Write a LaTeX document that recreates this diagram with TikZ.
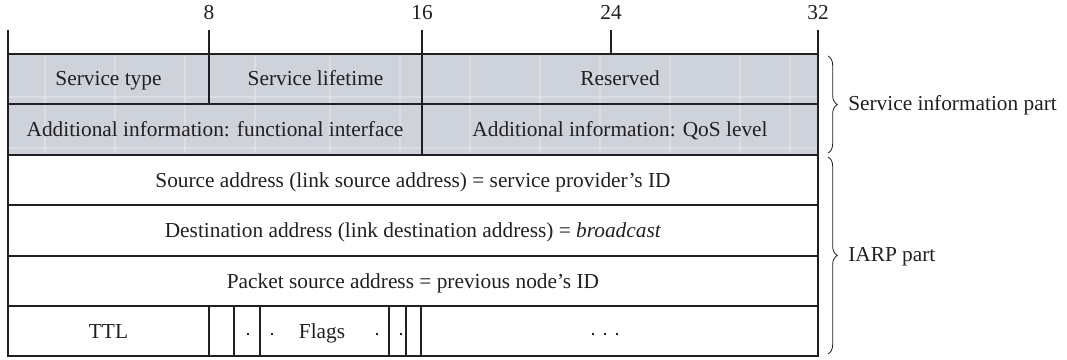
\documentclass[tikz,border=0pt]{standalone}
\usepackage{fontspec}
\setmainfont{Liberation Serif}
\usetikzlibrary{decorations.pathreplacing}
\definecolor{fieldgrey}{HTML}{CED2DA}
\definecolor{inkc}{HTML}{231F20}
\tikzset{
  cell/.style={draw=inkc, line width=0.8pt},
  lbl/.style={text=inkc, font=\fontsize{16}{19}\selectfont, inner sep=0pt, anchor=base},
  tick/.style={draw=inkc, line width=0.8pt},
  thick16/.style={draw=inkc, line width=1.3pt},
  dotc/.style={fill=inkc, inner sep=0pt, minimum size=1.8pt, rectangle},
  bracec/.style={draw=inkc, line width=0.6pt, decorate, decoration={brace, amplitude=7pt}},
  texture/.style={draw=white, opacity=0.25, line width=1.2pt}
}
\begin{document}
\begin{tikzpicture}[x=0.75pt,y=-0.75pt]
\useasboundingbox (0,0) rectangle (1067,360);
% grey rows
\fill[fieldgrey] (8,54) rectangle (818,155);
\foreach \xx in {45,115,185,255,330,400,470,540,600,670,740,790}
  \draw[texture] (\xx,56) -- (\xx,153);
\foreach \yy in {97,148}
  \draw[texture] (9,\yy) -- (817,\yy);
% row 1
\draw[cell] (8,54) rectangle (209,104);
\draw[cell] (209,54) rectangle (422,104);
\draw[cell] (422,54) rectangle (818,104);
\node[lbl] (st) at (108.5,86) {Service type};
\node[lbl] (sl) at (315.5,86) {Service lifetime};
\node[lbl] (rs) at (620,86) {Reserved};
% row 2
\draw[cell] (8,104) rectangle (422,155);
\draw[cell] (422,104) rectangle (818,155);
\node[lbl] (fi) at (215,137) {Additional information: functional interface};
\node[lbl] (qos) at (620,137) {Additional information: QoS level};
\draw[thick16] (422,54) -- (422,155);
% rows 3-5
\draw[cell] (8,155) rectangle (818,205);
\node[lbl] (src) at (413,187) {Source address (link source address) = service provider's ID};
\draw[cell] (8,205) rectangle (818,256);
\node[lbl] (dst) at (413,237) {Destination address (link destination address) = \textit{broadcast}};
\draw[cell] (8,256) rectangle (818,306);
\node[lbl] (psa) at (413,288) {Packet source address = previous node's ID};
% row 6
\draw[cell] (8,306) rectangle (818,356);
\foreach \xx in {209,234,260,389,406}
  \draw[cell] (\xx,306) -- (\xx,356);
\draw[thick16] (421,306) -- (421,356);
\node[lbl] (ttl) at (108.5,338) {TTL};
\node[lbl] (flg) at (322,338) {Flags};
\node[dotc] (d1) at (248,334) {};
\node[dotc] (d2) at (272,334) {};
\node[dotc] (d3) at (377,334) {};
\node[dotc] (d4) at (401,334) {};
\node[dotc] (e1) at (593,334) {};
\node[dotc] (e2) at (605,334) {};
\node[dotc] (e3) at (617,334) {};
% scale ticks
\foreach \xx in {8,209,611,818}
  \draw[tick] (\xx,30) -- (\xx,54);
\draw[thick16] (422,30) -- (422,54);
\node[lbl] (b8) at (209,20) {8};
\node[lbl] (b16) at (422,20) {16};
\node[lbl] (b24) at (611,20) {24};
\node[lbl] (b32) at (818,20) {32};
% braces
\coordinate (s1) at (828,56);
\coordinate (s2) at (828,153);
\coordinate (i1) at (828,157);
\coordinate (i2) at (828,354);
\draw[bracec] (s1) -- (s2);
\draw[bracec] (i1) -- (i2);
\node[lbl, anchor=base west] (sip) at (848,110) {Service information part};
\node[lbl, anchor=base west] (iarp) at (848,261) {IARP part};
\end{tikzpicture}
\end{document}
